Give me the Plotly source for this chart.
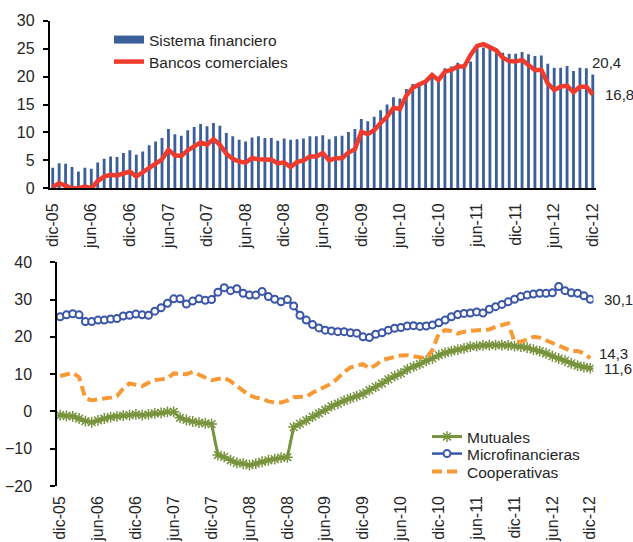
import plotly.graph_objects as go

MESES = ["ene", "feb", "mar", "abr", "may", "jun", "jul", "ago", "sep", "oct", "nov", "dic"]
months = ["dic-05"] + [f"{m}-{y:02d}" for y in range(6, 13) for m in MESES]
tick_labels = months[::6]

sistema = [3.7, 4.5, 4.4, 3.8, 3.0, 3.7, 3.5, 4.6, 5.3, 5.7, 5.6, 6.3,
           6.8, 6.0, 6.6, 7.7, 8.4, 9.0, 10.6, 9.7, 9.4, 10.4, 11.0, 11.5,
           11.1, 11.7, 11.2, 9.9, 9.3, 8.7, 8.4, 9.1, 9.3, 9.0, 9.0, 8.5,
           8.9, 8.7, 8.8, 8.9, 9.3, 9.3, 9.5, 8.8, 9.3, 9.4, 10.1, 10.6,
           12.4, 12.0, 12.8, 14.0, 15.0, 16.3, 16.1, 17.8, 18.7, 18.9, 19.2, 20.0,
           19.7, 21.5, 21.8, 22.5, 22.0, 22.7, 25.3, 25.2, 25.0, 24.7, 24.3, 24.1,
           24.1, 24.4, 24.0, 23.7, 23.8, 22.3, 21.6, 21.6, 21.9, 21.0, 21.6, 21.5, 20.4]

bancos = [0.2, 0.9, 0.5, 0.0, 0.0, 0.3, 0.0, 1.3, 2.1, 2.4, 2.3, 2.7,
          3.0, 2.1, 2.9, 3.7, 4.6, 5.2, 6.9, 5.9, 5.8, 6.8, 7.5, 8.2,
          7.8, 8.8, 7.8, 6.2, 5.3, 4.8, 4.6, 5.4, 5.2, 5.2, 5.1, 4.5,
          4.6, 3.8, 4.7, 5.0, 5.7, 5.7, 6.3, 5.0, 5.4, 5.4, 6.4, 7.0,
          10.1, 9.7, 10.4, 11.7, 12.8, 14.4, 14.2, 16.6, 18.0, 18.6, 19.1, 20.3,
          19.4, 20.9, 21.2, 21.8, 21.8, 23.9, 25.5, 25.8, 25.3, 24.7, 23.4, 22.8,
          22.7, 23.0, 22.1, 21.2, 21.2, 18.8, 17.6, 18.2, 18.4, 17.2, 18.2, 18.2, 16.8]

mutuales = [-1.0, -1.2, -1.3, -1.9, -2.6, -2.9, -2.4, -1.9, -1.5, -1.3, -1.1, -1.0,
            -0.8, -1.0, -0.8, -0.5, -0.4, -0.1, -0.1, -1.7, -2.3, -2.7, -3.0, -3.2,
            -3.4, -11.7, -12.2, -13.1, -13.8, -14.0, -14.4, -14.0, -13.5, -13.1, -12.8, -12.4,
            -12.3, -4.2, -3.3, -2.4, -1.4, -0.5, 0.4, 1.4, 2.1, 2.9, 3.5, 4.1,
            4.7, 5.7, 6.6, 7.5, 8.6, 9.5, 10.2, 11.3, 12.0, 12.7, 13.6, 14.2,
            15.1, 15.7, 16.2, 16.6, 16.9, 17.4, 17.5, 17.7, 17.8, 17.8, 17.8, 17.7,
            17.5, 17.4, 17.1, 16.6, 16.2, 15.6, 14.8, 14.2, 13.6, 12.9, 12.3, 11.9, 11.6]

micro = [25.4, 25.9, 26.2, 25.9, 24.1, 24.1, 24.5, 24.5, 24.8, 24.9, 25.6, 25.8,
         26.1, 25.9, 25.8, 26.9, 27.8, 29.0, 30.2, 30.2, 28.8, 29.6, 30.2, 29.8,
         30.0, 32.0, 33.2, 32.4, 32.9, 31.7, 31.2, 31.2, 32.2, 30.8, 30.1, 29.4,
         30.0, 28.3, 25.8, 24.5, 23.3, 22.4, 21.8, 21.6, 21.4, 21.4, 21.1, 21.0,
         20.0, 19.8, 20.7, 21.1, 21.8, 22.3, 22.5, 22.9, 23.0, 22.8, 22.9, 23.2,
         23.8, 24.5, 25.4, 26.0, 26.3, 26.4, 26.7, 26.4, 27.4, 28.1, 28.7, 29.4,
         30.1, 30.8, 31.2, 31.5, 31.7, 31.7, 31.8, 33.5, 32.4, 31.8, 31.7, 31.0, 30.1]

coop = [9.5, 10.0, 10.4, 9.2, 3.5, 3.0, 3.2, 3.5, 3.7, 4.1, 6.2, 7.5,
        7.1, 6.8, 7.7, 8.4, 8.6, 8.9, 10.2, 10.2, 10.0, 10.6, 9.7, 9.1,
        8.4, 8.7, 9.0, 8.1, 6.9, 5.7, 4.3, 3.7, 3.4, 2.7, 2.4, 2.4,
        2.9, 3.8, 3.8, 4.0, 5.0, 5.8, 6.6, 7.5, 8.9, 10.6, 11.8, 12.2,
        12.7, 11.5, 12.4, 13.8, 14.2, 14.7, 15.0, 15.1, 14.8, 14.6, 14.2, 16.5,
        20.9, 21.8, 21.6, 20.9, 21.4, 21.6, 21.8, 22.0, 22.0, 22.7, 23.2, 23.6,
        18.7, 18.7, 19.3, 20.0, 19.8, 19.1, 18.4, 17.8, 16.9, 16.2, 16.2, 15.6, 14.3]

FONT = "Arial, Liberation Sans, sans-serif"
TXT = "#262626"
BAR_C = "#3C5F9A"
RED_C = "#EF3B2C"
GREEN_C = "#77933C"
BLUE_C = "#3A56A8"
ORANGE_C = "#F79A35"

W, H = 633, 542


def px(x):
    return x / W


def py(y):
    return 1 - y / H


def fmt(v):
    return f"{v:.1f}".replace(".", ",")


n = len(months)
xrange_ = [-0.5, n - 0.5]
boundary_ticks = [i - 0.5 for i in range(0, n, 6)]

fig = go.Figure()

fig.add_trace(go.Bar(x=months, y=sistema, name="Sistema financiero", showlegend=False,
                     marker=dict(color=BAR_C, line=dict(width=0)),
                     xaxis="x", yaxis="y"))
# legend swatch for the bars (wide rectangle, as in the original)
fig.add_trace(go.Scatter(x=[None], y=[None], name="Sistema financiero", mode="lines",
                         line=dict(color=BAR_C, width=8), xaxis="x", yaxis="y",
                         legend="legend"))
fig.add_trace(go.Scatter(x=months, y=bancos, name="Bancos comerciales", mode="lines",
                         line=dict(color=RED_C, width=4.5),
                         xaxis="x", yaxis="y", legend="legend2"))

fig.add_trace(go.Scatter(x=months, y=mutuales, name="Mutuales", mode="lines+markers",
                         line=dict(color=GREEN_C, width=3),
                         marker=dict(symbol="asterisk-open", size=9,
                                     line=dict(color=GREEN_C, width=1.5)),
                         xaxis="x2", yaxis="y2", legend="legend3"))
fig.add_trace(go.Scatter(x=months, y=micro, name="Microfinancieras", mode="lines+markers",
                         line=dict(color=BLUE_C, width=2.5),
                         marker=dict(symbol="circle", size=7, color="white",
                                     line=dict(color=BLUE_C, width=2)),
                         xaxis="x2", yaxis="y2", legend="legend4"))
fig.add_trace(go.Scatter(x=months, y=coop, name="Cooperativas", mode="lines",
                         line=dict(color=ORANGE_C, width=4, dash="10px,5px"),
                         xaxis="x2", yaxis="y2", legend="legend5"))

axis_common = dict(showgrid=False, zeroline=False, linecolor="black", linewidth=1.5,
                   tickcolor="black", tickwidth=1.5, automargin=False,
                   tickfont=dict(family=FONT, size=16, color=TXT))

top_y = [py(188.3), py(20.8)]
bot_y = [py(486.0), py(262.3)]
zero_pos = bot_y[0] + (bot_y[1] - bot_y[0]) * (20 / 60)


def leg(x, y, size):
    return dict(x=px(x), y=py(y), xanchor="left", yanchor="middle",
                bgcolor="rgba(0,0,0,0)", borderwidth=0,
                font=dict(family=FONT, size=size, color=TXT))


fig.update_layout(
    template="none",
    width=W, height=H,
    autosize=False,
    margin=dict(l=0, r=0, t=0, b=0, pad=0),
    paper_bgcolor="white", plot_bgcolor="white",
    font=dict(family=FONT, size=16, color=TXT),
    bargap=0.56,
    xaxis=dict(domain=[px(49.5), px(596)], anchor="y", type="category",
               categoryorder="array", categoryarray=months, range=xrange_,
               tickmode="array", tickvals=tick_labels, ticktext=tick_labels,
               tickangle=-90, ticks="", showline=True, ticklabelstandoff=7,
               **axis_common),
    xaxis3=dict(overlaying="x", anchor="y", type="linear", range=xrange_,
                tickmode="array", tickvals=boundary_ticks, ticks="outside", ticklen=5,
                showticklabels=False, showline=False, **axis_common),
    yaxis=dict(domain=top_y, anchor="x", range=[0, 30], dtick=5, ticks="outside", ticklen=5,
               showline=True, ticklabelstandoff=5, **axis_common),
    xaxis2=dict(domain=[px(57), px(593.4)], anchor="y2", type="category",
                categoryorder="array", categoryarray=months, range=xrange_,
                tickmode="array", tickvals=tick_labels, ticktext=tick_labels,
                tickangle=-90, ticks="", showline=False, ticklabelstandoff=6,
                **axis_common),
    xaxis4=dict(overlaying="x2", anchor="free", position=zero_pos, type="linear",
                range=xrange_, tickmode="array", tickvals=boundary_ticks,
                ticks="outside", ticklen=5, showticklabels=False, showline=True,
                **axis_common),
    yaxis2=dict(domain=bot_y, anchor="x2", range=[-20, 40], dtick=10, ticks="outside",
                ticklen=5, showline=True, ticklabelstandoff=15, **axis_common),
    legend=leg(109, 40, 15.5),
    legend2=leg(109, 62, 15.5),
    legend3=leg(427, 437, 15.5),
    legend4=leg(427, 454, 15.5),
    legend5=leg(427, 472, 15.5),
    showlegend=True,
)

ann_font = dict(family=FONT, size=15, color=TXT)
fig.add_annotation(x=months[-1], y=sistema[-1], xref="x", yref="y", text=fmt(sistema[-1]),
                   showarrow=False, xanchor="left", yanchor="middle", xshift=-3, yshift=12,
                   font=ann_font)
fig.add_annotation(x=months[-1], y=bancos[-1], xref="x", yref="y", text=fmt(bancos[-1]),
                   showarrow=False, xanchor="left", yanchor="middle", xshift=10,
                   font=ann_font)
fig.add_annotation(x=months[-1], y=micro[-1], xref="x2", yref="y2", text=fmt(micro[-1]),
                   showarrow=False, xanchor="left", yanchor="middle", xshift=12,
                   font=ann_font)
fig.add_annotation(x=months[-1], y=coop[-1], xref="x2", yref="y2", text=fmt(coop[-1]),
                   showarrow=False, xanchor="left", yanchor="middle", xshift=7, yshift=5,
                   font=ann_font)
fig.add_annotation(x=months[-1], y=mutuales[-1], xref="x2", yref="y2", text=fmt(mutuales[-1]),
                   showarrow=False, xanchor="left", yanchor="middle", xshift=12,
                   font=ann_font)

page_css = ("document.body.style.margin='0';document.body.style.padding='0';"
            "document.body.style.overflow='hidden';"
            "document.documentElement.style.overflow='hidden';")

fig.write_html("out.html", config={"responsive": False, "displayModeBar": False},
               post_script=page_css)
